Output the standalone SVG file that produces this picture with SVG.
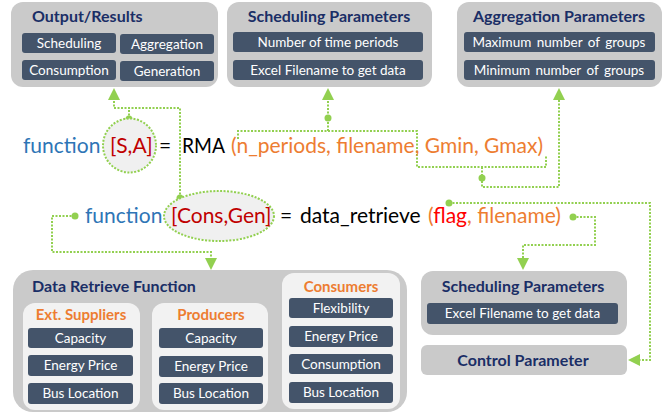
<svg xmlns="http://www.w3.org/2000/svg" width="667" height="415" viewBox="0 0 667 415">
<style>
.outer{fill:#CACACA}
.sub{fill:#F2F2F2}
.item{fill:#44546A}
.it{font-family:Lato,"Open Sans",sans-serif;font-size:13.5px;fill:#FFFFFF;text-anchor:middle}
.ws{word-spacing:2px}
.ttl{font-family:Lato,"Open Sans",sans-serif;font-size:16px;font-weight:bold;fill:#1A2E66}
.sttl{font-family:Lato,"Open Sans",sans-serif;font-size:15px;font-weight:bold;fill:#ED7D31;text-anchor:middle}
.code{font-family:Lato,"Open Sans",sans-serif;font-size:21px}
.blue{fill:#2E75B6}
.red{fill:#C00000}
.blk{fill:#000000}
.org{fill:#ED7D31}
.bred{fill:#FF0000}
.con{fill:none;stroke:#92D050;stroke-width:2;stroke-dasharray:2 1.5}
.dot{fill:#92D050}
.ell{fill:#F0F0F0;stroke:#92D050;stroke-width:2;stroke-dasharray:2 1.5}
</style>

<g id="output-results">
<rect class="outer" x="11" y="2" width="207" height="85" rx="12"/>
<text class="ttl" x="32" y="22">Output/Results</text>
<rect class="item" x="22" y="33" width="94" height="20" rx="3"/>
<text class="it" x="69" y="48">Scheduling</text>
<rect class="item" x="120" y="34" width="94" height="20" rx="3"/>
<text class="it" x="167" y="49">Aggregation</text>
<rect class="item" x="22" y="60" width="94" height="20" rx="3"/>
<text class="it" x="69" y="75">Consumption</text>
<rect class="item" x="120" y="61" width="94" height="20" rx="3"/>
<text class="it" x="167" y="76">Generation</text>
</g>

<g id="scheduling-parameters-top">
<rect class="outer" x="227" y="2" width="205" height="85" rx="12"/>
<text class="ttl" x="329" y="22" text-anchor="middle">Scheduling Parameters</text>
<rect class="item" x="233" y="32" width="190" height="20" rx="3"/>
<text class="it" x="328" y="47">Number of time periods</text>
<rect class="item" x="233" y="60" width="190" height="20" rx="3"/>
<text class="it" x="328" y="75">Excel Filename to get data</text>
</g>

<g id="aggregation-parameters">
<rect class="outer" x="457" y="2" width="205" height="85" rx="12"/>
<text class="ttl" x="559" y="22" text-anchor="middle">Aggregation Parameters</text>
<rect class="item" x="464" y="32" width="191" height="20" rx="3"/>
<text class="it ws" x="559" y="47">Maximum number of groups</text>
<rect class="item" x="464" y="60" width="191" height="20" rx="3"/>
<text class="it ws" x="559" y="75">Minimum number of groups</text>
</g>

<g id="connectors">
<path class="con" d="M180,198 V108 H114 V100"/>
<path class="con" d="M129,119 V108"/>
<polygon class="dot" points="108,100 120,100 114,88"/>
<circle class="dot" cx="180" cy="198" r="3.5"/>
<circle class="dot" cx="129" cy="119" r="3.5"/>

<path class="con" d="M238,139 V131 H417 V167 H546 V156"/>
<path class="con" d="M328,131 V100"/>
<polygon class="dot" points="322,100 334,100 328,88"/>
<circle class="dot" cx="328" cy="118" r="3.5"/>

<path class="con" d="M482,167 V187 H559 V100"/>
<polygon class="dot" points="553,100 565,100 559,88"/>
<circle class="dot" cx="482" cy="178" r="3.5"/>

<path class="con" d="M449,203 H650 V360 H640"/>
<polygon class="dot" points="640,354 640,366 628,360"/>
<circle class="dot" cx="449" cy="203" r="3.5"/>

<path class="con" d="M573,217 H595 V245 H523 V258"/>
<polygon class="dot" points="517,258 529,258 523,270"/>
<circle class="dot" cx="573" cy="217" r="3.5"/>

<path class="con" d="M75,216 H52 V252 H211 V258"/>
<polygon class="dot" points="205,258 217,258 211,270"/>
<circle class="dot" cx="75" cy="216" r="3.5"/>
</g>

<g id="rma-call">
<ellipse class="ell" cx="129.5" cy="145.5" rx="26.5" ry="27"/>
<text class="code blue" x="23" y="153">function</text>
<text class="code red" x="110" y="153">[S,A]</text>
<text class="code blk" x="159" y="153">=</text>
<text class="code blk" x="182" y="153" textLength="43" lengthAdjust="spacingAndGlyphs">RMA</text>
<text class="code org" x="231" y="153" textLength="312" lengthAdjust="spacingAndGlyphs">(n_periods, filename, Gmin, Gmax)</text>
</g>

<g id="data-retrieve-call">
<ellipse class="ell" cx="219" cy="216" rx="55" ry="25"/>
<text class="code blue" x="85" y="223">function</text>
<text class="code red" x="171" y="223">[Cons,Gen]</text>
<text class="code blk" x="280" y="223">=</text>
<text class="code blk" x="300" y="223">data_retrieve</text>
<text class="code org" x="428" y="223">(<tspan class="bred">flag</tspan>, filename)</text>
</g>

<g id="data-retrieve-function">
<rect class="outer" x="13" y="270" width="394" height="142" rx="20"/>
<text class="ttl" x="32" y="292">Data Retrieve Function</text>
<g id="ext-suppliers">
<rect class="sub" x="23" y="303" width="117" height="107" rx="12"/>
<text class="sttl" x="81" y="320">Ext. Suppliers</text>
<rect class="item" x="28" y="328" width="105" height="20" rx="3"/>
<text class="it" x="80.5" y="343">Capacity</text>
<rect class="item" x="28" y="355" width="105" height="21" rx="3"/>
<text class="it" x="80.5" y="370">Energy Price</text>
<rect class="item" x="28" y="383" width="105" height="21" rx="3"/>
<text class="it" x="80.5" y="398">Bus Location</text>
</g>
<g id="producers">
<rect class="sub" x="152" y="303" width="116" height="107" rx="12"/>
<text class="sttl" x="211" y="320">Producers</text>
<rect class="item" x="159" y="328" width="104" height="20" rx="3"/>
<text class="it" x="211" y="343">Capacity</text>
<rect class="item" x="159" y="356" width="104" height="21" rx="3"/>
<text class="it" x="211" y="371">Energy Price</text>
<rect class="item" x="159" y="383" width="104" height="21" rx="3"/>
<text class="it" x="211" y="398">Bus Location</text>
</g>
<g id="consumers">
<rect class="sub" x="282" y="273" width="118" height="136" rx="12"/>
<text class="sttl" x="341" y="292">Consumers</text>
<rect class="item" x="289" y="298" width="104" height="20" rx="3"/>
<text class="it" x="341" y="313">Flexibility</text>
<rect class="item" x="289" y="326" width="104" height="21" rx="3"/>
<text class="it" x="341" y="341">Energy Price</text>
<rect class="item" x="289" y="354" width="104" height="20" rx="3"/>
<text class="it" x="341" y="369">Consumption</text>
<rect class="item" x="289" y="382" width="104" height="21" rx="3"/>
<text class="it" x="341" y="397">Bus Location</text>
</g>
</g>

<g id="scheduling-parameters-bottom">
<rect class="outer" x="421" y="271" width="206" height="64" rx="12"/>
<text class="ttl" x="523" y="292" text-anchor="middle">Scheduling Parameters</text>
<rect class="item" x="427" y="303" width="191" height="21" rx="3"/>
<text class="it" x="522.5" y="318">Excel Filename to get data</text>
</g>

<g id="control-parameter">
<rect class="outer" x="421" y="345" width="206" height="30" rx="6"/>
<text class="ttl" x="523" y="366" text-anchor="middle">Control Parameter</text>
</g>
</svg>
